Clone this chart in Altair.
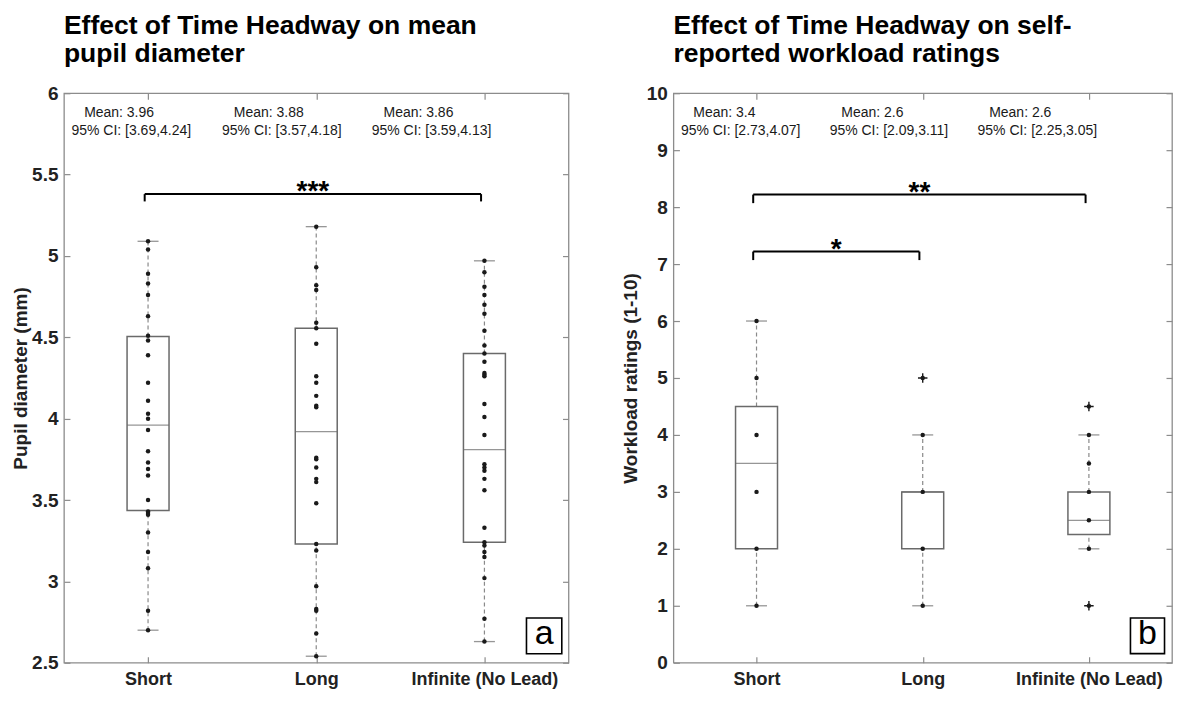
import json
import altair as alt
import pandas as pd

# ---------------- data ----------------
categories = ["Short", "Long", "Infinite (No Lead)"]

# panel a: mean pupil diameter (mm), individual participants
pupil_short = [5.09, 5.04, 4.89, 4.83, 4.76, 4.63, 4.51, 4.48, 4.39, 4.22, 4.11, 4.03,
               4.00, 3.93, 3.80, 3.73, 3.69, 3.65, 3.50, 3.43, 3.42, 3.41, 3.30, 3.18,
               3.08, 2.82, 2.70]
pupil_long = [5.18, 4.93, 4.82, 4.79, 4.59, 4.555, 4.46, 4.26, 4.22, 4.14, 4.08, 4.07,
              3.76, 3.75, 3.70, 3.63, 3.61, 3.48, 3.23, 3.19, 2.97, 2.83, 2.82, 2.68, 2.54]
pupil_inf = [4.97, 4.90, 4.81, 4.76, 4.70, 4.645, 4.54, 4.45, 4.40, 4.35, 4.28, 4.27,
             4.26, 4.09, 4.01, 3.90, 3.72, 3.70, 3.68, 3.63, 3.56, 3.33, 3.24, 3.22,
             3.18, 3.15, 3.02, 2.77, 2.63]
pupil_q1 = [3.435, 3.23, 3.24]
pupil_median = [3.96, 3.92, 3.81]
pupil_q3 = [4.505, 4.555, 4.40]
pupil_whisker_lo = [2.70, 2.54, 2.63]
pupil_whisker_hi = [5.09, 5.18, 4.97]
pupil_mean = [3.96, 3.88, 3.86]
pupil_ci_lo = [3.69, 3.57, 3.59]
pupil_ci_hi = [4.24, 4.18, 4.13]
pupil_sig_from = ["Short"]
pupil_sig_to = ["Infinite (No Lead)"]
pupil_sig_label = ["***"]
pupil_sig_height = [5.38]

# panel b: self-reported workload ratings (1-10)
work_short = [6, 5, 4, 3, 2, 1]
work_long = [5, 4, 3, 2, 1]
work_inf = [4.5, 4, 3.5, 3, 2.5, 2, 1]
work_q1 = [2, 2, 2.25]
work_median = [3.5, 3, 2.5]
work_q3 = [4.5, 3, 3]
work_whisker_lo = [1, 1, 2]
work_whisker_hi = [6, 4, 4]
work_outlier_cat = ["Long", "Infinite (No Lead)", "Infinite (No Lead)"]
work_outlier_val = [5, 4.5, 1]
work_mean = [3.4, 2.6, 2.6]
work_ci_lo = [2.73, 2.09, 2.25]
work_ci_hi = [4.07, 3.11, 3.05]
work_sig_from = ["Short", "Short"]
work_sig_to = ["Infinite (No Lead)", "Long"]
work_sig_label = ["**", "*"]
work_sig_height = [8.22, 7.22]

# where the Mean / CI labels start, in category units
mean_label_x = [0.62, 1.51, 2.40]
ci_label_x = [0.545, 1.44, 2.33]

# ---------------- styling ----------------
FONT = "Liberation Sans"
FRAME = "#8c8c8c"
BOXC = "#6a6a6a"
INK = "#1a1a1a"
PLOT_H = 570

pos_of = {c: i + 1 for i, c in enumerate(categories)}
label_expr = json.dumps(categories) + "[datum.value - 1]"


def panel(title_lines, y_title, y_domain, y_ticks, y_fmt, point_lists,
          q1, med, q3, wlo, whi, means, ci_lo, ci_hi,
          sig_from, sig_to, sig_label, sig_height, sig_drop,
          out_cat, out_val, letter, letter_box, title_pad, width):
    xs = alt.Scale(domain=[0.5, 3.5], nice=False, zero=False, padding=0)
    ys = alt.Scale(domain=y_domain, nice=False, zero=False, padding=0)

    pts = pd.DataFrame([{"pos": pos_of[c], "v": v}
                        for c, vals in zip(categories, point_lists) for v in vals])
    stats = pd.DataFrame({"pos": [1, 2, 3], "q1": q1, "med": med, "q3": q3,
                          "lo": wlo, "hi": whi})
    ann = pd.DataFrame({
        "mx": mean_label_x, "cx": ci_label_x, "top": [y_domain[1]] * 3,
        "mean_txt": [f"Mean: {m}" for m in means],
        "ci_txt": [f"95% CI: [{a},{b}]" for a, b in zip(ci_lo, ci_hi)],
    })
    sig = pd.DataFrame({
        "x1": [pos_of[c] - 0.02 for c in sig_from],
        "x2": [pos_of[c] - 0.02 for c in sig_to],
        "h": sig_height, "label": sig_label,
    })
    sig["hd"] = sig["h"] - sig_drop
    sig["xm"] = (sig["x1"] + sig["x2"]) / 2

    x_bottom = alt.Axis(orient="bottom", values=[1, 2, 3], labelExpr=label_expr,
                        title=None, offset=-6, tickSize=6, domain=False, grid=False,
                        labelPadding=8, labelFontSize=18)
    y_left = alt.Axis(orient="left", values=y_ticks, format=y_fmt, title=y_title,
                      offset=-6, tickSize=6, domain=False, grid=False,
                      labelPadding=6, labelFontSize=19, titlePadding=title_pad,
                      titleFontSize=19)
    x_top = alt.Axis(orient="top", values=[1, 2, 3], labels=False, title=None,
                     offset=-6, tickSize=6, domain=False, grid=False)
    y_right = alt.Axis(orient="right", values=y_ticks, labels=False, title=None,
                       offset=-6, tickSize=6, domain=False, grid=False)

    whisk_lo = alt.Chart(stats).mark_rule(color="#8a8a8a", strokeDash=[4, 3], strokeWidth=1.2).encode(
        x=alt.X("pos:Q", scale=xs, axis=x_bottom),
        y=alt.Y("lo:Q", scale=ys, axis=y_left), y2="q1:Q")
    whisk_hi = alt.Chart(stats).mark_rule(color="#8a8a8a", strokeDash=[4, 3], strokeWidth=1.2).encode(
        x=alt.X("pos:Q", scale=xs, axis=None),
        y=alt.Y("q3:Q", scale=ys, axis=None), y2="hi:Q")
    caps = alt.Chart(stats).transform_fold(["lo", "hi"], as_=["k", "cap"]).mark_tick(
        orient="horizontal", size=21, thickness=1.3, color=BOXC).encode(
        x=alt.X("pos:Q", scale=xs, axis=None),
        y=alt.Y("cap:Q", scale=ys, axis=None))
    box = alt.Chart(stats).mark_bar(width=42, fill="white", fillOpacity=0,
                                    stroke=BOXC, strokeWidth=1.5).encode(
        x=alt.X("pos:Q", scale=xs, axis=None),
        y=alt.Y("q1:Q", scale=ys, axis=None), y2="q3:Q")
    median = alt.Chart(stats).mark_tick(orient="horizontal", size=42, thickness=1.2,
                                        color=BOXC).encode(
        x=alt.X("pos:Q", scale=xs, axis=None),
        y=alt.Y("med:Q", scale=ys, axis=None))
    points = alt.Chart(pts).mark_circle(size=20, color=INK, opacity=1).encode(
        x=alt.X("pos:Q", scale=xs, axis=x_top),
        y=alt.Y("v:Q", scale=ys, axis=y_right))

    layers = [whisk_lo, whisk_hi, caps, box, median, points]

    if out_cat:
        outl = pd.DataFrame({"pos": [pos_of[c] for c in out_cat], "v": out_val})
        layers.append(alt.Chart(outl).mark_point(
            shape="M-1,0H1M0,-1V1", size=90, strokeWidth=1.4, color=INK,
            filled=False, opacity=1).encode(
            x=alt.X("pos:Q", scale=xs, axis=None),
            y=alt.Y("v:Q", scale=ys, axis=None)))

    bracket_h = alt.Chart(sig).mark_rule(color="black", strokeWidth=2).encode(
        x=alt.X("x1:Q", scale=xs, axis=None), x2="x2:Q",
        y=alt.Y("h:Q", scale=ys, axis=None))
    bracket_v = alt.Chart(sig).transform_fold(["x1", "x2"], as_=["k", "xe"]).mark_rule(
        color="black", strokeWidth=2).encode(
        x=alt.X("xe:Q", scale=xs, axis=None),
        y=alt.Y("h:Q", scale=ys, axis=None), y2="hd:Q")
    stars = alt.Chart(sig).mark_text(font=FONT, fontSize=28, fontWeight="bold",
                                     color="black", baseline="alphabetic", dy=6).encode(
        x=alt.X("xm:Q", scale=xs, axis=None),
        y=alt.Y("h:Q", scale=ys, axis=None), text="label:N")
    mean_t = alt.Chart(ann).mark_text(font=FONT, fontSize=14, color=INK, align="left",
                                      baseline="alphabetic", dy=24).encode(
        x=alt.X("mx:Q", scale=xs, axis=None),
        y=alt.Y("top:Q", scale=ys, axis=None), text="mean_txt:N")
    ci_t = alt.Chart(ann).mark_text(font=FONT, fontSize=14, color=INK, align="left",
                                    baseline="alphabetic", dy=42).encode(
        x=alt.X("cx:Q", scale=xs, axis=None),
        y=alt.Y("top:Q", scale=ys, axis=None), text="ci_txt:N")

    lb = pd.DataFrame({"x1": [letter_box[0]], "x2": [letter_box[1]],
                       "y1": [letter_box[2]], "y2": [letter_box[3]], "t": [letter]})
    lb["xc"] = (lb["x1"] + lb["x2"]) / 2
    lb["yc"] = (lb["y1"] + lb["y2"]) / 2
    lbox = alt.Chart(lb).mark_rect(fill="white", stroke="black", strokeWidth=1.6).encode(
        x=alt.X("x1:Q", scale=xs, axis=None), x2="x2:Q",
        y=alt.Y("y1:Q", scale=ys, axis=None), y2="y2:Q")
    ltext = alt.Chart(lb).mark_text(font=FONT, fontSize=34, color="black",
                                    baseline="middle", dy=-2).encode(
        x=alt.X("xc:Q", scale=xs, axis=None),
        y=alt.Y("yc:Q", scale=ys, axis=None), text="t:N")

    layers += [bracket_h, bracket_v, stars, mean_t, ci_t, lbox, ltext]

    return alt.layer(*layers).resolve_axis(x="independent", y="independent").properties(
        width=width, height=PLOT_H,
        title=alt.TitleParams(text=title_lines, anchor="start", frame="group",
                              font=FONT, fontSize=26.5, fontWeight="bold",
                              lineHeight=28, offset=17, color="black"))


left = panel(["Effect of Time Headway on mean", "pupil diameter"], "Pupil diameter (mm)",
             [2.5, 6], [2.5, 3, 3.5, 4, 4.5, 5, 5.5, 6], "~g",
             [pupil_short, pupil_long, pupil_inf],
             pupil_q1, pupil_median, pupil_q3, pupil_whisker_lo, pupil_whisker_hi,
             pupil_mean, pupil_ci_lo, pupil_ci_hi,
             pupil_sig_from, pupil_sig_to, pupil_sig_label, pupil_sig_height, 0.045,
             [], [], "a", [3.25, 3.46, 2.555, 2.775], 1, 505)

right = panel(["Effect of Time Headway on self-", "reported workload ratings"],
              "Workload ratings (1-10)",
              [0, 10], list(range(0, 11)), "d",
              [work_short, work_long, work_inf],
              work_q1, work_median, work_q3, work_whisker_lo, work_whisker_hi,
              work_mean, work_ci_lo, work_ci_hi,
              work_sig_from, work_sig_to, work_sig_label, work_sig_height, 0.15,
              work_outlier_cat, work_outlier_val, "b", [3.25, 3.455, 0.16, 0.785], 6, 499)

chart = alt.hconcat(left, right, spacing=50).properties(
    padding={"left": 2, "top": 3, "right": 0, "bottom": 0}
).configure_view(stroke=FRAME, strokeWidth=1.3).configure_axis(
    labelFont=FONT, labelFontWeight="bold", labelColor="#222222",
    titleFont=FONT, titleFontWeight="bold", titleColor="#222222",
    tickColor=FRAME, tickWidth=1.2)

chart.save("out.html", embed_options={"renderer": "svg", "actions": False})
